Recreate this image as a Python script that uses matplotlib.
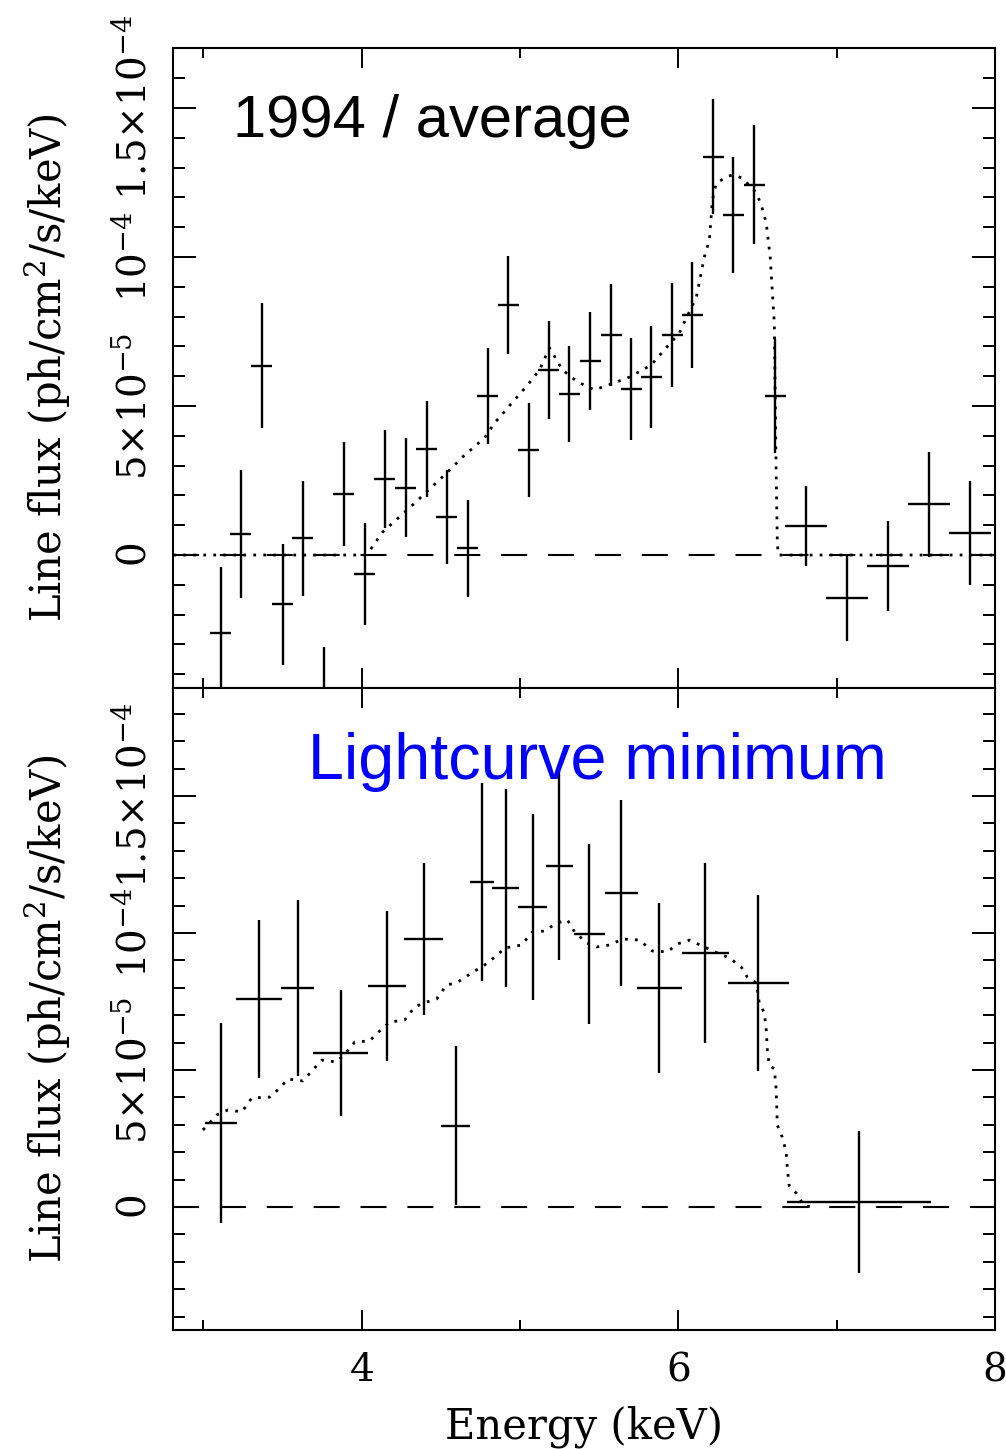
import numpy as np
import matplotlib
matplotlib.use("Agg")
import matplotlib.pyplot as plt

plt.rcParams['font.family'] = ['DejaVu Serif']
plt.rcParams['mathtext.fontset'] = 'dejavuserif'

# --------------------------
# Data (flux values in units of 1e-5 ph/cm^2/s/keV)
# --------------------------
SCALE = 1e-5

# top panel: 1994 / average
avg_e = [3.110, 3.237, 3.369, 3.502, 3.628, 3.760, 3.886, 4.019, 4.145, 4.278,
         4.410, 4.536, 4.669, 4.795, 4.927, 5.054, 5.180, 5.312, 5.445, 5.577,
         5.703, 5.830, 5.962, 6.088, 6.221, 6.347, 6.479, 6.612,
         6.808, 7.066, 7.325, 7.584, 7.842]
avg_de = [0.066] * 28 + [0.132] * 5
avg_flux = [-2.6, 0.7, 6.35, -1.65, 0.57, -5.0, 2.05, -0.64, 2.55, 2.25,
            3.56, 1.28, 0.23, 5.34, 8.39, 3.52, 6.21, 5.40, 6.51, 7.38,
            5.57, 5.97, 7.38, 8.05, 13.36, 11.41, 12.42, 5.34,
            0.97, -1.44, -0.37, 1.71, 0.74]
avg_err = [2.2, 2.15, 2.1, 2.03, 1.93, 1.9, 1.75, 1.70, 1.65, 1.66,
           1.61, 1.58, 1.63, 1.6, 1.65, 1.58, 1.63, 1.61, 1.64, 1.7,
           1.72, 1.7, 1.73, 1.78, 1.93, 1.95, 2.0, 1.9,
           1.34, 1.43, 1.52, 1.76, 1.75]

avg_model_e = [2.81, 4.02, 4.044, 4.132, 4.334, 4.536, 4.637, 4.776, 4.839, 4.953,
               5.047, 5.123, 5.186, 5.268, 5.363, 5.470, 5.577, 5.691, 5.830, 5.899,
               6.006, 6.114, 6.164, 6.196, 6.215, 6.240, 6.303, 6.341, 6.404, 6.492,
               6.524, 6.555, 6.580, 6.593, 6.606, 6.612, 6.618, 6.625, 6.631, 8.0]
avg_model = [0, 0, 0.10, 0.77, 1.74, 2.75, 3.29, 3.93, 4.43, 5.13,
             5.70, 6.21, 6.95, 6.21, 5.81, 5.54, 5.74, 5.97, 6.38, 6.81,
             7.45, 8.66, 10.0, 10.57, 11.91, 12.48, 12.68, 12.75, 12.65, 12.15,
             11.74, 11.14, 10.0, 8.89, 7.79, 5.20, 2.62, 0.44, 0, 0]

# bottom panel: lightcurve minimum
min_e = [3.110, 3.350, 3.596, 3.868, 4.158, 4.391, 4.593, 4.757, 4.909, 5.079,
         5.249, 5.438, 5.640, 5.880, 6.170, 6.505, 7.142]
min_de = [0.10, 0.145, 0.104, 0.174, 0.12, 0.123, 0.091, 0.076, 0.085, 0.091,
          0.088, 0.10, 0.104, 0.142, 0.148, 0.192, 0.454]
min_flux = [3.07, 7.59, 7.99, 5.62, 8.07, 9.78, 2.96, 11.86, 11.64, 10.95,
            12.45, 9.96, 11.46, 7.99, 9.27, 8.18, 0.18]
min_err = [3.65, 2.9, 3.2, 2.3, 2.73, 2.78, 2.9, 3.6, 3.6, 3.4,
           3.45, 3.28, 3.4, 3.1, 3.28, 3.2, 2.6]

min_model_e = [2.997, 3.085, 3.155, 3.243, 3.306, 3.420, 3.483, 3.533, 3.628, 3.691,
               3.748, 3.842, 3.905, 3.956, 4.050, 4.120, 4.177, 4.271, 4.334, 4.410,
               4.473, 4.536, 4.599, 4.694, 4.776, 4.858, 4.902, 5.009, 5.079, 5.155,
               5.230, 5.300, 5.344, 5.420, 5.483, 5.565, 5.647, 5.754, 5.836, 5.931,
               5.994, 6.069, 6.164, 6.246, 6.322, 6.397, 6.435, 6.492, 6.511, 6.543,
               6.555, 6.562, 6.574, 6.606, 6.618, 6.625, 6.656, 6.681, 6.688, 6.700,
               6.744, 6.795, 6.85]
min_model = [2.81, 3.36, 3.54, 3.47, 3.98, 4.01, 4.34, 4.67, 4.60, 5.00,
             5.36, 5.29, 5.66, 6.02, 6.06, 6.46, 6.75, 6.82, 7.30, 7.48,
             7.59, 8.10, 8.18, 8.54, 8.83, 9.20, 9.45, 9.56, 10.04, 10.07,
             10.36, 10.47, 10.04, 9.64, 9.49, 9.56, 9.78, 9.74, 9.34, 9.31,
             9.60, 9.74, 9.49, 9.27, 9.09, 8.76, 8.39, 8.18, 7.45, 7.08,
             6.46, 5.73, 5.18, 5.04, 4.27, 2.99, 2.55, 2.01, 1.42, 0.77,
             0.51, 0.04, 0]

y_ticks = [0, 5e-5, 1e-4, 1.5e-4]
y_ticklabels = [r'$0$', r'$5{\times}10^{-5}$', r'$10^{-4}$', r'$1.5{\times}10^{-4}$']
x_major = [4, 6, 8]
x_minor = [3, 5, 7]

# --------------------------
# Figure
# --------------------------
fig = plt.figure(figsize=(10.06, 14.49), dpi=100)
ax1 = fig.add_axes([0.17197, 0.52519, 0.81710, 0.44169])
ax2 = fig.add_axes([0.17197, 0.08213, 0.81710, 0.44306], sharex=ax1)

panels = [
    (ax1, avg_e, avg_de, avg_flux, avg_err, avg_model_e, avg_model, (-4.46e-5, 17.01e-5)),
    (ax2, min_e, min_de, min_flux, min_err, min_model_e, min_model, (-4.49e-5, 18.94e-5)),
]

for ax, e, de, f, ferr, me, mf, ylim in panels:
    ax.axhline(0, color='k', lw=1.5, dashes=(12.5, 10))
    ax.errorbar(e, np.array(f) * SCALE, xerr=de, yerr=np.array(ferr) * SCALE,
                fmt='none', ecolor='k', elinewidth=1.7, capsize=0)
    ax.plot(me, np.array(mf) * SCALE, color='k', lw=2.0, dashes=(1.0, 2.6))

    ax.set_xticks(x_major)
    ax.set_xticks(x_minor, minor=True)
    ax.set_yticks(y_ticks)
    ax.set_yticklabels(y_ticklabels, rotation=90, va='center')
    minor = np.arange(-4e-5, ylim[1], 1e-5)
    ax.set_yticks(minor, minor=True)
    ax.set_xlim(2.808, 8.0)
    ax.set_ylim(*ylim)
    ax.tick_params(which='both', direction='in', top=True, right=True, width=1.4)
    ax.tick_params(axis='x', which='major', length=14.5, labelsize=28, pad=16)
    ax.tick_params(axis='x', which='minor', length=7.2)
    ax.tick_params(axis='y', which='major', length=16.5, labelsize=28, pad=14)
    ax.tick_params(axis='y', which='minor', length=8.6)
    for s in ax.spines.values():
        s.set_linewidth(1.5)
    ax.set_ylabel(r'Line flux (ph/cm$^2$/s/keV)', fontsize=30)
    ax.yaxis.set_label_coords(-0.122, 0.5)

ax1.tick_params(axis='x', labelbottom=False)
ax2.set_xlabel('Energy (keV)', fontsize=30, labelpad=12)

ax1.text(0.073, 0.861, '1994 / average', transform=ax1.transAxes,
         fontsize=43, family='Liberation Sans', color='k', va='baseline')
ax2.text(0.164, 0.858, 'Lightcurve minimum', transform=ax2.transAxes,
         fontsize=46.5, family='Liberation Sans', color='#0000ff', va='baseline')

fig.savefig('out.png', dpi=100)
